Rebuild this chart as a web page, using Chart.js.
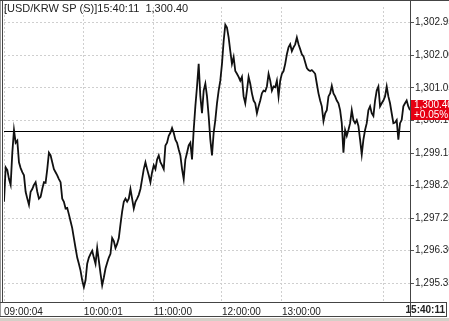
<!DOCTYPE html>
<html>
<head>
<meta charset="utf-8">
<title>USD/KRW SP</title>
<script src="https://cdn.jsdelivr.net/npm/chart.js@4.4.1/dist/chart.umd.min.js"></script>
<style>
  html, body { margin: 0; padding: 0; background: #fff; }
  canvas { display: block; }
</style>
</head>
<body>
<canvas id="tickChart" width="449" height="321"></canvas>
<script>
// instrument / header
const symbol = 'USD/KRW SP (S)';
const lastTime = '15:40:11';
const prevClose = 1299.80;

// time axis: labelled ticks (by tick index)
const timeLabels = ['09:00:04', '10:00:01', '11:00:00', '12:00:00', '13:00:00', '14:00:00'];
const timeIndex = [0, 48, 90, 131, 167, 228];

// price axis ticks
const priceTicks = [1295.35, 1296.30, 1297.25, 1298.20, 1299.15, 1300.10, 1301.05, 1302.00, 1302.95];
const priceMin = 1294.805;
const priceMax = 1303.408;

// tick prices
const prices = [
  1297.73, 1298.73, 1298.65, 1298.39, 1298.22, 1299.16, 1299.82, 1299.45, 1299.51, 1298.88,
  1298.71, 1298.59, 1298.50, 1298.02, 1297.82, 1297.64, 1298.02, 1298.10, 1298.22, 1298.30,
  1298.02, 1297.82, 1297.87, 1298.10, 1298.30, 1298.28, 1298.68, 1299.16, 1299.08, 1298.88,
  1298.68, 1298.59, 1298.50, 1298.39, 1298.30, 1297.82, 1297.73, 1297.53, 1297.55, 1297.36,
  1297.16, 1296.96, 1296.67, 1296.38, 1296.10, 1295.92, 1295.72, 1295.44, 1295.24, 1295.44,
  1295.92, 1296.10, 1296.21, 1296.30, 1296.10, 1295.92, 1296.38, 1296.01, 1295.64, 1295.29,
  1295.52, 1295.78, 1295.95, 1296.10, 1296.21, 1296.67, 1296.58, 1296.38, 1296.50, 1296.67,
  1297.07, 1297.44, 1297.73, 1297.82, 1297.73, 1297.82, 1298.10, 1297.82, 1297.53, 1297.73,
  1297.82, 1297.93, 1298.10, 1298.39, 1298.68, 1298.88, 1298.68, 1298.50, 1298.30, 1298.59,
  1298.79, 1298.68, 1298.96, 1299.08, 1298.88, 1298.79, 1298.68, 1299.37, 1299.45, 1299.65,
  1299.74, 1299.88, 1299.74, 1299.54, 1299.45, 1299.25, 1299.08, 1298.68, 1298.39, 1298.96,
  1299.16, 1299.37, 1299.45, 1298.96, 1299.82, 1300.51, 1301.09, 1301.75, 1300.80, 1300.31,
  1300.97, 1301.17, 1300.80, 1300.23, 1299.54, 1299.08, 1299.74, 1300.11, 1300.60, 1300.97,
  1301.26, 1301.75, 1302.41, 1302.89, 1302.81, 1302.52, 1302.12, 1301.75, 1301.95, 1301.54,
  1301.46, 1301.37, 1301.26, 1301.37, 1300.80, 1300.60, 1300.97, 1301.37, 1301.17, 1300.89,
  1300.68, 1300.60, 1300.31, 1300.51, 1300.68, 1300.89, 1300.97, 1300.95, 1301.09, 1301.46,
  1301.26, 1300.97, 1301.09, 1301.07, 1301.26, 1300.80, 1301.26, 1301.46, 1301.54, 1301.75,
  1302.03, 1302.23, 1302.32, 1302.12, 1302.23, 1302.32, 1302.52, 1302.32, 1302.18, 1302.03,
  1301.97, 1301.80, 1301.63, 1301.57, 1301.54, 1301.57, 1301.52, 1301.46, 1301.17, 1300.89,
  1300.68, 1300.51, 1300.08, 1300.31, 1300.40, 1300.80, 1300.89, 1301.11, 1300.89, 1300.80,
  1300.68, 1300.60, 1300.40, 1300.02, 1299.16, 1299.82, 1299.65, 1299.82, 1300.02, 1300.40,
  1300.11, 1300.02, 1300.11, 1299.94, 1299.54, 1299.11, 1299.54, 1299.82, 1300.02, 1300.40,
  1300.51, 1300.31, 1300.23, 1300.68, 1300.97, 1301.09, 1300.51, 1300.60, 1300.68, 1300.80,
  1301.09, 1300.80, 1300.60, 1300.31, 1300.02, 1300.04, 1300.11, 1299.54, 1300.02, 1300.11,
  1300.51, 1300.60, 1300.68, 1300.51, 1300.40
];

const FONT = "'Liberation Sans', Arial, sans-serif";
const fmt = v => v.toLocaleString('en-US', { minimumFractionDigits: 2, maximumFractionDigits: 2 });

const last = prices[prices.length - 1];
const changePct = (last - prevClose) / prevClose * 100;

// frame, previous close line, header and current price marker
const frame = {
    id: 'frame',
    beforeDatasetsDraw(chart) {
        const { ctx, chartArea: a, scales: { y } } = chart;
        const py = Math.round(y.getPixelForValue(prevClose)) + 0.5;
        ctx.save();
        ctx.strokeStyle = '#000';
        ctx.lineWidth = 1;
        ctx.beginPath();
        ctx.moveTo(a.left, py);
        ctx.lineTo(a.right, py);
        ctx.stroke();
        ctx.restore();
    },
    afterDraw(chart) {
        const { ctx, chartArea: a, scales: { y }, width } = chart;
        ctx.save();
        ctx.lineWidth = 1;

        // outer frame
        ctx.strokeStyle = '#999';
        ctx.beginPath(); ctx.moveTo(0.5, 0); ctx.lineTo(0.5, 317); ctx.stroke();
        ctx.strokeStyle = '#444';
        ctx.beginPath();
        ctx.moveTo(0, 0.5); ctx.lineTo(width, 0.5);
        ctx.moveTo(2.5, 0); ctx.lineTo(2.5, a.bottom);
        ctx.moveTo(a.right + 0.5, 0); ctx.lineTo(a.right + 0.5, 317);
        ctx.moveTo(0, a.bottom + 0.5); ctx.lineTo(447, a.bottom + 0.5);
        ctx.moveTo(0, 316.5); ctx.lineTo(447, 316.5);
        ctx.moveTo(446.5, a.bottom); ctx.lineTo(446.5, 317);
        ctx.stroke();
        ctx.fillStyle = '#d4d0c8';
        ctx.fillRect(0, 318, width, 3);

        // header
        ctx.fillStyle = '#222';
        ctx.font = '11px ' + FONT;
        ctx.textBaseline = 'top';
        ctx.textAlign = 'left';
        ctx.fillText('[' + symbol + ']' + lastTime + '  ' + fmt(last), 4, 3);

        // last time box
        ctx.font = 'bold 10px ' + FONT;
        ctx.textAlign = 'right';
        ctx.textBaseline = 'middle';
        ctx.fillText(lastTime, 445, 310);

        // current price marker
        const py = Math.round(y.getPixelForValue(last));
        ctx.fillStyle = '#e60012';
        ctx.fillRect(a.right + 1, py - 10, width - a.right - 1, 20);
        ctx.fillStyle = '#fff';
        ctx.font = '10px ' + FONT;
        ctx.textAlign = 'left';
        ctx.fillText(fmt(last), a.right + 4, py - 5);
        ctx.fillText((changePct >= 0 ? '+' : '') + changePct.toFixed(2) + '%', a.right + 4, py + 5);
        ctx.restore();
    }
};

new Chart(document.getElementById('tickChart'), {
    type: 'line',
    data: {
        datasets: [{
            label: symbol,
            data: prices.map((p, i) => ({ x: i, y: p })),
            borderColor: '#111',
            borderWidth: 1.8,
            pointRadius: 0,
            tension: 0,
            fill: false
        }]
    },
    options: {
        responsive: false,
        animation: false,
        events: [],
        layout: { padding: { left: 3, top: 2, right: 0, bottom: 4 } },
        plugins: {
            legend: { display: false },
            tooltip: { enabled: false }
        },
        scales: {
            x: {
                type: 'linear',
                min: 0,
                max: prices.length - 1,
                afterBuildTicks: s => { s.ticks = timeIndex.map(v => ({ value: v })); },
                afterFit: s => { s.height = 15; },
                grid: { color: '#cfcfcf', drawTicks: false },
                border: { display: false, dash: [2, 2] },
                ticks: {
                    autoSkip: false,
                    maxRotation: 0,
                    align: 'start',
                    padding: 4,
                    color: '#222',
                    font: { family: FONT, size: 10 },
                    // the 14:00 label would run into the last-time box, so it stays blank
                    callback: v => {
                        const k = timeIndex.indexOf(v);
                        return k < 0 || k === timeLabels.length - 1 ? '' : timeLabels[k];
                    }
                }
            },
            y: {
                position: 'right',
                min: priceMin,
                max: priceMax,
                afterBuildTicks: s => { s.ticks = priceTicks.map(v => ({ value: v })); },
                afterFit: s => { s.width = 39; },
                grid: { color: '#cfcfcf', tickColor: '#555', tickLength: 4, tickBorderDash: [] },
                border: { display: false, dash: [2, 2] },
                ticks: {
                    padding: 1,
                    color: '#222',
                    font: { family: FONT, size: 10 },
                    callback: v => fmt(v)
                }
            }
        }
    },
    plugins: [frame]
});
</script>
</body>
</html>
